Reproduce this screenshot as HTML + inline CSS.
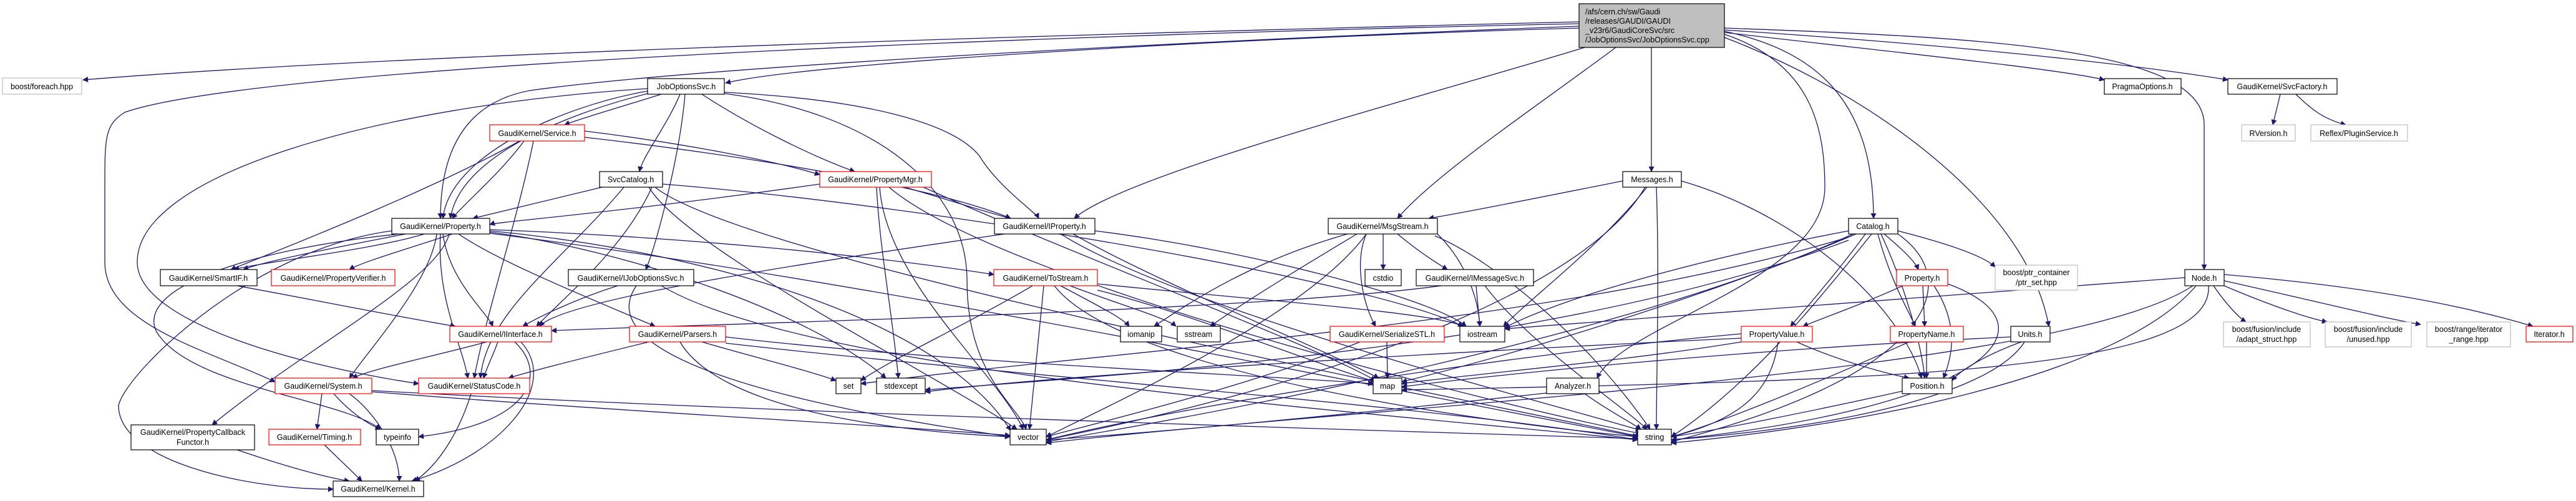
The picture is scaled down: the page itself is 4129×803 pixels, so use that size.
<!DOCTYPE html>
<html><head><meta charset="utf-8"><style>
html,body{margin:0;padding:0;background:#fff;}
svg{display:block;}
text{font-family:"Liberation Sans",Arial,sans-serif;font-size:12.5px;fill:#000;}
.e{fill:none;stroke:#191970;stroke-width:1.3;}
.b{fill:#fff;stroke:#000;stroke-width:1.2;}
.r{fill:#fff;stroke:#ff0000;stroke-width:1.2;}
.g{fill:#fff;stroke:#bfbfbf;stroke-width:1.2;}
</style></head><body>
<svg width="4129" height="803" viewBox="0 0 4129 803" xmlns="http://www.w3.org/2000/svg">
<defs><marker id="a" viewBox="0 0 10 10" refX="9" refY="5" markerWidth="9" markerHeight="9" markerUnits="userSpaceOnUse" orient="auto"><path d="M0 0 L10 5 L0 10 z" fill="#191970"/></marker></defs>
<g class="e" marker-end="url(#a)">
<!-- TOP -->
<path d="M2531 35 C1500 60, 600 90, 133 128"/>
<path d="M2531 45 C2000 60, 1300 100, 1163 133"/>
<path d="M2531 42 C1800 70, 1100 110, 850 145 C740 165, 706 250, 706 350"/>
<path d="M2531 38 C1500 60, 400 110, 200 180 C168 200, 168 220, 168 300 L168 420 C168 520, 330 560, 441 612"/>
<path d="M2540 76 C2300 150, 1800 280, 1722 350"/>
<path d="M2590 76 C2450 180, 2300 280, 2240 350"/>
<path d="M2647 76 L2647 275"/>
<path d="M2764 50 C2900 80, 3003 150, 3003 350"/>
<path d="M2764 55 C2900 100, 2925 200, 2925 300 C2925 450, 2600 520, 2560 606"/>
<path d="M2764 60 C3000 150, 3250 330, 3284 523"/>
<path d="M2764 45 C3200 60, 3533 80, 3533 200 L3533 432"/>
<path d="M2764 52 C3000 80, 3300 110, 3373 128"/>
<path d="M2764 48 C3100 70, 3400 100, 3571 128"/>
<!-- JOS -->
<path d="M1060 151 C1000 170, 930 190, 905 200"/>
<path d="M1090 151 C1070 200, 1030 250, 1025 275"/>
<path d="M1125 151 C1200 200, 1300 250, 1370 275"/>
<path d="M1161 148 C1400 160, 1530 200, 1570 250 C1600 300, 1660 340, 1665 350"/>
<path d="M1038 146 C900 170, 720 250, 710 350"/>
<path d="M1038 150 C880 190, 735 260, 722 350"/>
<path d="M1098 151 C1090 250, 1050 400, 1035 432"/>
<path d="M1161 150 C1400 180, 1550 300, 1550 450 C1550 600, 1630 650, 1645 688"/>
<path d="M1038 142 C600 170, 220 280, 220 420 C220 520, 500 590, 671 615"/>
<!-- Service -->
<path d="M840 226 C800 280, 740 330, 725 350"/>
<path d="M833 226 C700 300, 500 380, 370 432"/>
<path d="M937 220 C1200 250, 1500 300, 1620 350"/>
<path d="M937 210 C1100 230, 1250 260, 1314 280"/>
<path d="M855 226 C830 350, 780 500, 760 606"/>
<!-- SvcCatalog -->
<path d="M965 300 C880 320, 800 340, 758 350"/>
<path d="M1045 300 C1000 400, 900 480, 860 523"/>
<path d="M1062 295 C1500 330, 2200 450, 2345 523"/>
<path d="M1040 300 C1100 400, 1500 600, 1630 688"/>
<path d="M1050 300 C1200 420, 2400 650, 2630 700"/>
<path d="M1000 300 C900 420, 780 500, 770 606"/>
<!-- PropertyMgr -->
<path d="M1314 295 C1000 340, 800 355, 785 360"/>
<path d="M1450 300 C1520 320, 1580 340, 1620 350"/>
<path d="M1405 300 C1410 400, 1430 500, 1440 606"/>
<path d="M1410 300 C1420 450, 1600 600, 1640 688"/>
<path d="M1425 300 C1600 450, 2400 650, 2630 695"/>
<path d="M1480 300 C1700 400, 2100 550, 2205 610"/>
<!-- GKProp -->
<path d="M650 375 C520 400, 420 420, 390 432"/>
<path d="M680 375 C600 400, 420 420, 375 432"/>
<path d="M725 375 C650 400, 580 420, 560 432"/>
<path d="M785 368 C1100 380, 1400 410, 1593 440"/>
<path d="M735 375 C800 420, 950 480, 1050 523"/>
<path d="M720 375 C700 450, 500 550, 340 681"/>
<path d="M628 370 C400 400, 200 600, 190 650 C190 740, 400 785, 534 784"/>
<path d="M785 372 C1000 400, 1300 500, 1420 606"/>
<path d="M785 370 C1100 400, 1500 500, 1620 690"/>
<path d="M785 374 C1400 450, 2200 620, 2625 700"/>
<path d="M640 375 C400 400, 220 460, 250 530 C300 620, 550 640, 610 688"/>
<path d="M710 375 C720 450, 780 500, 790 523"/>
<path d="M700 375 C690 450, 600 550, 560 606"/>
<path d="M706 375 C700 480, 740 550, 750 606"/>
<!-- row 5 -->
<path d="M380 458 C500 480, 650 510, 730 523"/>
<path d="M990 458 C920 480, 860 510, 838 523"/>
<path d="M1020 458 C950 560, 1200 640, 1619 700"/>
<path d="M1060 458 C1300 600, 2200 660, 2625 705"/>
<path d="M1610 375 C1300 420, 900 480, 865 523"/>
<path d="M1755 370 C2000 400, 2300 480, 2350 523"/>
<path d="M1700 375 C1900 500, 2500 650, 2630 690"/>
<path d="M1720 375 C1850 450, 2100 550, 2210 606"/>
<path d="M780 548 C700 570, 600 590, 565 606"/>
<path d="M798 548 C790 570, 780 590, 775 606"/>
<path d="M825 548 C880 600, 850 680, 671 700"/>
<path d="M835 548 C900 620, 800 730, 660 771"/>
<path d="M1040 548 C950 570, 850 595, 815 606"/>
<path d="M1125 548 C1200 570, 1300 595, 1340 610"/>
<path d="M1090 548 C1150 650, 1400 690, 1619 700"/>
<path d="M1163 550 C1600 600, 2300 650, 2625 705"/>
<path d="M1163 540 C1500 580, 2000 600, 2201 615"/>
<path d="M1655 458 C1550 520, 1420 580, 1380 610"/>
<path d="M1673 458 L1650 688"/>
<path d="M1700 458 C1760 490, 1800 510, 1810 523"/>
<path d="M1715 458 C1800 490, 1870 510, 1885 523"/>
<path d="M1690 458 C1800 600, 2400 680, 2625 700"/>
<path d="M1759 465 C1900 500, 2100 580, 2205 612"/>
<path d="M1759 455 C2000 480, 2300 500, 2345 523"/>
<path d="M516 631 L508 688"/>
<path d="M535 631 C560 660, 590 680, 610 688"/>
<path d="M560 631 C600 660, 640 720, 640 771"/>
<path d="M596 628 C1000 660, 1400 680, 1619 698"/>
<path d="M596 626 C1200 660, 2200 690, 2625 703"/>
<path d="M755 631 C740 680, 710 740, 665 771"/>
<path d="M380 721 C450 745, 520 765, 560 771"/>
<path d="M520 713 L580 771"/>
<!-- MsgStream -->
<path d="M2160 375 C2000 420, 1900 490, 1850 523"/>
<path d="M2175 375 C2100 420, 2000 480, 1940 523"/>
<path d="M2217 375 L2217 432"/>
<path d="M2240 375 C2270 400, 2300 420, 2320 432"/>
<path d="M2190 375 C2170 420, 2185 490, 2205 523"/>
<path d="M2304 375 C2350 420, 2370 480, 2372 523"/>
<path d="M2190 375 C2100 500, 1800 640, 1677 700"/>
<path d="M2300 378 C2400 420, 2550 550, 2645 688"/>
<path d="M2366 458 L2372 523"/>
<path d="M2380 458 C2450 550, 2600 650, 2640 688"/>
<path d="M2310 458 C2000 500, 1100 520, 884 530"/>
<path d="M2223 548 L2224 606"/>
<path d="M2180 548 C2000 620, 1750 680, 1677 700"/>
<!-- Messages -->
<path d="M2601 290 C2450 320, 2350 340, 2290 350"/>
<path d="M2640 300 C2560 400, 2450 480, 2410 523"/>
<path d="M2655 300 C2660 450, 2655 600, 2655 688"/>
<path d="M2637 300 C2550 450, 2200 600, 1677 705"/>
<path d="M2695 290 C2900 350, 3050 500, 3080 606"/>
<!-- Catalog -->
<path d="M3020 375 C3050 400, 3070 420, 3075 432"/>
<path d="M2990 375 C2950 430, 2890 500, 2870 523"/>
<path d="M3010 375 C3030 450, 3060 500, 3070 523"/>
<path d="M3015 375 C3050 450, 3080 550, 3085 606"/>
<path d="M3042 370 C3120 390, 3180 410, 3198 428"/>
<path d="M2963 370 C2700 420, 2500 480, 2412 525"/>
<path d="M2975 375 C2800 450, 2500 550, 2247 612"/>
<path d="M3000 375 C2900 500, 2800 620, 2679 700"/>
<path d="M2970 375 C2700 500, 2200 620, 1677 708"/>
<path d="M2963 380 C2500 520, 1800 560, 1380 615"/>
<path d="M2963 385 C2500 560, 1800 600, 1483 625"/>
<path d="M3042 375 C3150 450, 3100 600, 2679 708"/>
<path d="M3050 458 C2980 490, 2920 510, 2890 523"/>
<path d="M3082 458 L3085 523"/>
<path d="M3100 458 C3140 520, 3130 570, 3115 606"/>
<path d="M3122 455 C3300 520, 3200 650, 2679 705"/>
<path d="M2880 548 C2950 580, 3030 600, 3060 606"/>
<path d="M2850 548 C2840 620, 2800 670, 2679 700"/>
<path d="M2791 535 C2400 570, 1900 650, 1677 705"/>
<path d="M2791 548 C2600 580, 2350 600, 2247 615"/>
<path d="M2791 542 C2400 560, 1700 600, 1483 628"/>
<path d="M3088 548 L3088 606"/>
<path d="M3060 548 C2900 620, 2750 680, 2679 700"/>
<path d="M3049 627 C2900 660, 2750 690, 2679 700"/>
<path d="M3240 548 C3180 570, 3140 595, 3129 610"/>
<path d="M3245 548 C3200 620, 3000 680, 2679 705"/>
<path d="M3223 540 C2800 560, 2400 600, 2247 620"/>
<path d="M2540 631 C2580 660, 2620 680, 2630 688"/>
<path d="M2479 630 C2200 660, 1900 690, 1677 705"/>
<!-- Node -->
<path d="M3548 458 C3570 490, 3590 510, 3600 516"/>
<path d="M3565 458 C3640 490, 3700 510, 3730 516"/>
<path d="M3565 450 C3700 480, 3820 510, 3880 520"/>
<path d="M3565 440 C3800 460, 3950 490, 4060 523"/>
<path d="M3502 445 C3000 480, 2600 510, 2412 527"/>
<path d="M3515 458 C3300 600, 2200 650, 1677 710"/>
<path d="M3520 458 C3400 600, 3000 680, 2679 710"/>
<path d="M3540 458 C3550 600, 3000 610, 2247 625"/>
<path d="M3655 151 L3643 200"/>
<path d="M3680 151 C3700 170, 3720 190, 3760 200"/>
</g>
<!-- nodes -->
<g text-anchor="middle">
<rect x="2531" y="6" width="233" height="70" fill="#bfbfbf" stroke="#000" stroke-width="1.2"/>
<text x="2541" y="23" text-anchor="start">/afs/cern.ch/sw/Gaudi</text>
<text x="2541" y="38" text-anchor="start">/releases/GAUDI/GAUDI</text>
<text x="2541" y="53" text-anchor="start">_v23r6/GaudiCoreSvc/src</text>
<text x="2541" y="68" text-anchor="start">/JobOptionsSvc/JobOptionsSvc.cpp</text>

<rect class="g" x="4" y="125" width="127" height="26"/><text x="67" y="143">boost/foreach.hpp</text>
<rect class="b" x="1038" y="126" width="123" height="25"/><text x="1100" y="143">JobOptionsSvc.h</text>
<rect class="b" x="3373" y="126" width="123" height="25"/><text x="3434" y="143">PragmaOptions.h</text>
<rect class="b" x="3571" y="126" width="175" height="25"/><text x="3658" y="143">GaudiKernel/SvcFactory.h</text>
<rect class="r" x="785" y="200" width="152" height="26"/><text x="861" y="218">GaudiKernel/Service.h</text>
<rect class="g" x="3593" y="200" width="86" height="26"/><text x="3636" y="218">RVersion.h</text>
<rect class="g" x="3704" y="200" width="155" height="26"/><text x="3781" y="218">Reflex/PluginService.h</text>
<rect class="b" x="961" y="275" width="101" height="25"/><text x="1011" y="292">SvcCatalog.h</text>
<rect class="r" x="1314" y="275" width="179" height="25"/><text x="1403" y="292">GaudiKernel/PropertyMgr.h</text>
<rect class="b" x="2601" y="275" width="94" height="25"/><text x="2648" y="292">Messages.h</text>
<rect class="b" x="628" y="350" width="157" height="25"/><text x="706" y="367">GaudiKernel/Property.h</text>
<rect class="b" x="1594" y="350" width="161" height="25"/><text x="1674" y="367">GaudiKernel/IProperty.h</text>
<rect class="b" x="2129" y="350" width="175" height="25"/><text x="2216" y="367">GaudiKernel/MsgStream.h</text>
<rect class="b" x="2963" y="350" width="79" height="25"/><text x="3002" y="367">Catalog.h</text>

<rect class="b" x="257" y="432" width="155" height="26"/><text x="334" y="450">GaudiKernel/SmartIF.h</text>
<rect class="r" x="435" y="432" width="198" height="26"/><text x="534" y="450">GaudiKernel/PropertyVerifier.h</text>
<rect class="b" x="911" y="432" width="201" height="26"/><text x="1011" y="450">GaudiKernel/IJobOptionsSvc.h</text>
<rect class="r" x="1593" y="432" width="166" height="26"/><text x="1676" y="450">GaudiKernel/ToStream.h</text>
<rect class="b" x="2188" y="432" width="58" height="26"/><text x="2217" y="450">cstdio</text>
<rect class="b" x="2270" y="432" width="188" height="26"/><text x="2364" y="450">GaudiKernel/IMessageSvc.h</text>
<rect class="r" x="3040" y="432" width="82" height="26"/><text x="3081" y="450">Property.h</text>
<rect class="g" x="3198" y="425" width="132" height="40"/><text x="3264" y="441">boost/ptr_container</text><text x="3264" y="457">/ptr_set.hpp</text>
<rect class="b" x="3502" y="432" width="63" height="26"/><text x="3533" y="450">Node.h</text>

<rect class="r" x="721" y="523" width="163" height="25"/><text x="802" y="540">GaudiKernel/IInterface.h</text>
<rect class="r" x="1009" y="523" width="154" height="25"/><text x="1086" y="540">GaudiKernel/Parsers.h</text>
<rect class="b" x="1796" y="523" width="66" height="25"/><text x="1829" y="540">iomanip</text>
<rect class="b" x="1887" y="523" width="69" height="25"/><text x="1921" y="540">sstream</text>
<rect class="r" x="2132" y="523" width="183" height="25"/><text x="2223" y="540">GaudiKernel/SerializeSTL.h</text>
<rect class="b" x="2340" y="523" width="72" height="25"/><text x="2376" y="540">iostream</text>
<rect class="r" x="2791" y="523" width="114" height="25"/><text x="2848" y="540">PropertyValue.h</text>
<rect class="r" x="3030" y="523" width="117" height="25"/><text x="3088" y="540">PropertyName.h</text>
<rect class="b" x="3223" y="523" width="63" height="25"/><text x="3254" y="540">Units.h</text>
<rect class="g" x="3564" y="516" width="139" height="40"/><text x="3633" y="532">boost/fusion/include</text><text x="3633" y="548">/adapt_struct.hpp</text>
<rect class="g" x="3727" y="516" width="138" height="40"/><text x="3796" y="532">boost/fusion/include</text><text x="3796" y="548">/unused.hpp</text>
<rect class="g" x="3890" y="516" width="134" height="40"/><text x="3957" y="532">boost/range/iterator</text><text x="3957" y="548">_range.hpp</text>
<rect class="r" x="4049" y="523" width="75" height="25"/><text x="4086" y="540">Iterator.h</text>

<rect class="r" x="441" y="606" width="155" height="25"/><text x="518" y="623">GaudiKernel/System.h</text>
<rect class="r" x="671" y="606" width="178" height="25"/><text x="760" y="623">GaudiKernel/StatusCode.h</text>
<rect class="b" x="1340" y="606" width="40" height="25"/><text x="1360" y="623">set</text>
<rect class="b" x="1405" y="606" width="78" height="25"/><text x="1444" y="623">stdexcept</text>
<rect class="b" x="2201" y="606" width="46" height="25"/><text x="2224" y="623">map</text>
<rect class="b" x="2479" y="606" width="84" height="25"/><text x="2521" y="623">Analyzer.h</text>
<rect class="b" x="3049" y="606" width="80" height="25"/><text x="3089" y="623">Position.h</text>

<rect class="b" x="210" y="681" width="198" height="40"/><text x="309" y="697">GaudiKernel/PropertyCallback</text><text x="309" y="713">Functor.h</text>
<rect class="r" x="431" y="688" width="147" height="25"/><text x="504" y="705">GaudiKernel/Timing.h</text>
<rect class="b" x="603" y="688" width="68" height="25"/><text x="637" y="705">typeinfo</text>
<rect class="b" x="1619" y="688" width="58" height="25"/><text x="1648" y="705">vector</text>
<rect class="b" x="2625" y="688" width="54" height="25"/><text x="2652" y="705">string</text>
<rect class="b" x="534" y="771" width="145" height="25"/><text x="606" y="788">GaudiKernel/Kernel.h</text>
</g>
</svg>
</body></html>
